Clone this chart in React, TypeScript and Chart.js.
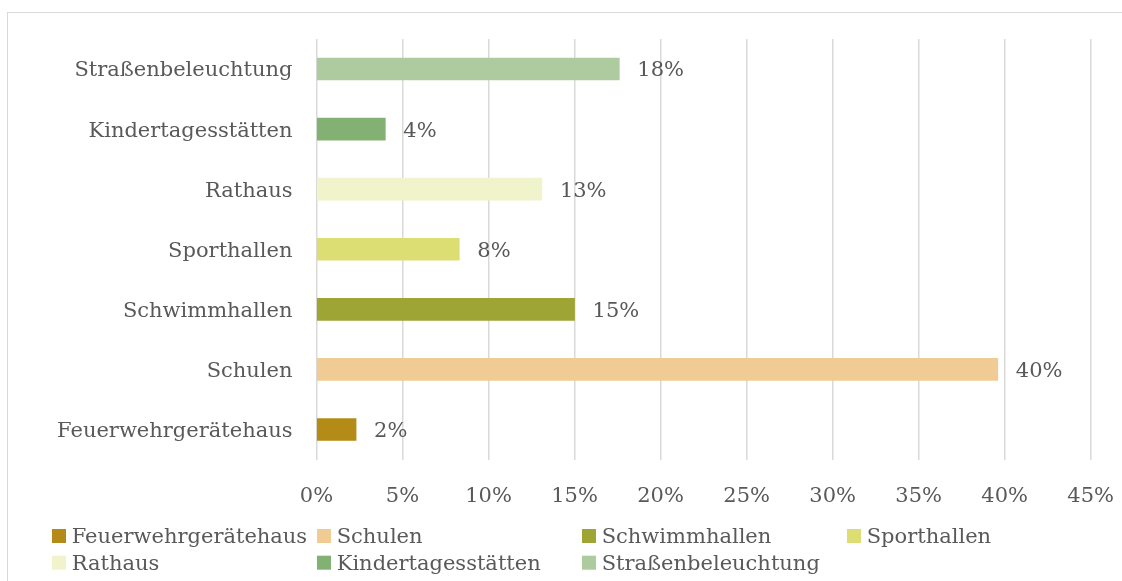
import React, { useEffect, useRef } from "react";
import { Chart, registerables } from "chart.js";

Chart.register(...registerables);

const categories = [
  "Feuerwehrgerätehaus",
  "Schulen",
  "Schwimmhallen",
  "Sporthallen",
  "Rathaus",
  "Kindertagesstätten",
  "Straßenbeleuchtung",
];
const shares = [2.3, 39.6, 15.0, 8.3, 13.1, 4.0, 17.6];
const barColors = ["#B38B16", "#F0CC94", "#9FA535", "#DCDE73", "#F1F4CB", "#83B073", "#AECBA0"];
const xTickMax = 45;
const xTickStep = 5;

const FONT = "'DejaVu Serif', serif";
const FSIZE = 21;
const TEXT = "#595959";

const valueLabels = {
  id: "valueLabels",
  afterDatasetsDraw(chart: any) {
    const ctx = chart.ctx;
    const meta = chart.getDatasetMeta(0);
    ctx.save();
    ctx.font = `${FSIZE}px ${FONT}`;
    ctx.fillStyle = TEXT;
    ctx.textAlign = "left";
    ctx.textBaseline = "middle";
    meta.data.forEach((bar: any, i: number) => {
      const v = chart.data.datasets[0].data[i];
      ctx.fillText(`${Math.round(v)}%`, bar.x + 18, bar.y + 2);
    });
    ctx.restore();
  },
};

const gridLegend = {
  id: "gridLegend",
  afterDraw(chart: any) {
    const ctx = chart.ctx;
    ctx.save();
    ctx.font = `${FSIZE}px ${FONT}`;
    ctx.textAlign = "left";
    ctx.textBaseline = "alphabetic";
    categories.forEach((name, i) => {
      const col = i % 4;
      const row = Math.floor(i / 4);
      const x0 = 52 + col * 265;
      const top = 529 + row * 26.7;
      ctx.fillStyle = barColors[i];
      ctx.fillRect(x0, top, 14, 14);
      ctx.fillStyle = TEXT;
      ctx.fillText(name, x0 + 19.7, top + 14.3);
    });
    ctx.restore();
  },
};

export default function App() {
  const ref = useRef<HTMLCanvasElement | null>(null);

  useEffect(() => {
    if (!ref.current) return;
    const chart = new Chart(ref.current, {
      type: "bar",
      data: {
        labels: categories,
        datasets: [
          {
            data: shares,
            backgroundColor: barColors,
            borderWidth: 0,
            barThickness: 22,
          },
        ],
      },
      options: {
        indexAxis: "y",
        responsive: false,
        animation: false,
        devicePixelRatio: 1,
        layout: { padding: { left: 0, top: 39, right: 31.3, bottom: 66.5 } },
        plugins: {
          legend: { display: false },
          tooltip: { enabled: false },
        },
        scales: {
          x: {
            min: 0,
            max: xTickMax,
            afterFit: (s: any) => {
              s.height = 55;
              s.paddingLeft = 0;
              s.paddingRight = 0;
            },
            border: { display: false },
            grid: { color: "#D9D9D9", lineWidth: 1.5, drawTicks: false },
            ticks: {
              stepSize: xTickStep,
              autoSkip: false,
              maxRotation: 0,
              padding: 24,
              color: TEXT,
              font: { family: FONT, size: FSIZE },
              callback: (v: any) => `${v}%`,
            },
          },
          y: {
            reverse: true,
            afterFit: (s: any) => {
              s.width = 316.5;
              s.paddingTop = 0;
              s.paddingBottom = 0;
            },
            border: { display: false },
            grid: { display: false, drawTicks: false },
            ticks: {
              padding: 24,
              labelOffset: 2,
              color: TEXT,
              font: { family: FONT, size: FSIZE },
            },
          },
        },
      } as any,
      plugins: [valueLabels, gridLegend],
    });
    return () => chart.destroy();
  }, []);

  return (
    <div
      style={{
        position: "fixed",
        left: 0,
        top: 0,
        width: 1122,
        height: 581,
        overflow: "hidden",
        background: "#fff",
      }}
    >
      <div
        style={{
          position: "absolute",
          left: 7,
          top: 12,
          width: 1200,
          height: 700,
          border: "1px solid #D9D9D9",
          boxSizing: "border-box",
        }}
      />
      <canvas
        ref={ref}
        width={1122}
        height={581}
        style={{ position: "absolute", left: 0, top: 0, width: 1122, height: 581 }}
      />
    </div>
  );
}
